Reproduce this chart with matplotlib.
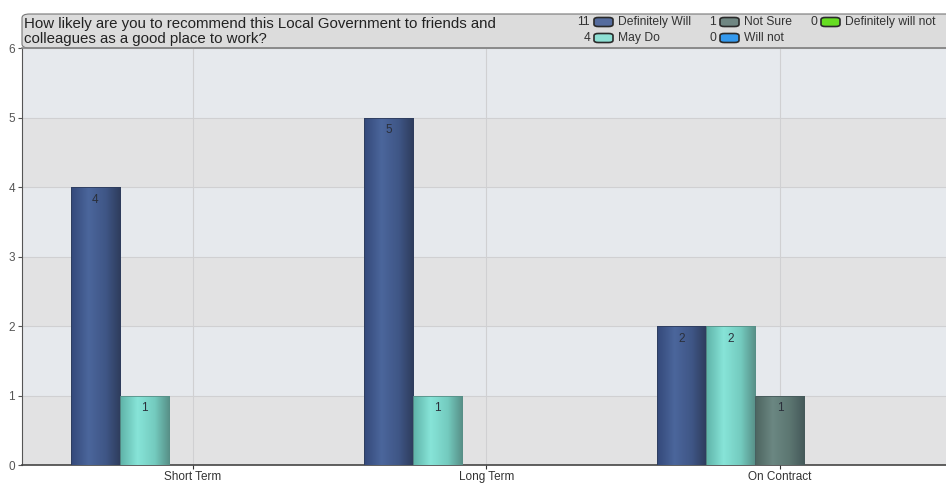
import numpy as np
import matplotlib
matplotlib.use("Agg")
import matplotlib.pyplot as plt
from matplotlib.colors import LinearSegmentedColormap
from matplotlib.patches import FancyBboxPatch, Rectangle

plt.rcParams['font.family'] = ['Liberation Sans', 'DejaVu Sans']

# Données
categories = ["Short Term", "Long Term", "On Contract"]
series = ["Definitely Will", "May Do", "Not Sure", "Will not", "Definitely will not"]
definitely_will = [4, 5, 2]
may_do = [1, 1, 2]
not_sure = [0, 0, 1]
will_not = [0, 0, 0]
definitely_will_not = [0, 0, 0]
valeurs = [definitely_will, may_do, not_sure, will_not, definitely_will_not]
titre = ("How likely are you to recommend this Local Government to friends and\n"
         "colleagues as a good place to work?")

# Couleurs (bord sombre, reflet clair, bord sombre)
degrades = [
    ["#34497a", "#4b669c", "#3f5686", "#2e3c5c"],
    ["#5fb3a8", "#87e4d8", "#74cbbf", "#578f87"],
    ["#4d6560", "#6b8782", "#5c7671", "#45595a"],
    ["#1f78c8", "#48a8f5", "#3390e0", "#1a66aa"],
    ["#4cb010", "#78e030", "#60c820", "#3f9010"],
]
pastilles = ["#556c9e", "#8ee0d4", "#6f8682", "#3399ee", "#66dd22"]

fig = plt.figure(figsize=(9.46, 4.83), dpi=100)
W, H = 946, 483
ax = fig.add_axes([22 / W, 1 - 465 / H, 1 - 22 / W, (465 - 48) / H])

x = np.arange(len(categories))
largeur = 0.167

# Bandes de fond alternées
for k in range(6):
    c = "#e2e2e3" if k % 2 == 0 else "#e6e9ed"
    ax.axhspan(k, k + 1, color=c, zorder=0, lw=0)
ax.set_facecolor("#e5e6e8")

ax.grid(True, color="#d0d0d2", lw=0.8, zorder=1)
ax.set_axisbelow(True)

for i, (nom, vals) in enumerate(zip(series, valeurs)):
    pos = x + (i - 2) * largeur
    barres = ax.bar(pos, vals, largeur, color=degrades[i][1],
                    edgecolor=degrades[i][3], lw=0.6, zorder=2)
    cmap = LinearSegmentedColormap.from_list("g%d" % i, list(zip([0, 0.35, 0.7, 1], degrades[i])))
    grad = np.linspace(0, 1, 64).reshape(1, -1)
    for b, v in zip(barres, vals):
        if v <= 0:
            continue
        x0 = b.get_x()
        im = ax.imshow(grad, cmap=cmap, extent=(x0, x0 + largeur, 0, v),
                       aspect="auto", zorder=3, interpolation="bicubic")
        im.set_clip_path(b)
        ax.add_patch(Rectangle((x0, 0), largeur, v, fill=False,
                               edgecolor=degrades[i][3], lw=0.6, zorder=4))
        ax.text(x0 + largeur / 2, v - 0.1, str(v), ha="center", va="top",
                fontsize=8.5, color="#2a2f3a", zorder=5)

ax.set_xticks(x)
ax.set_xticklabels(categories, fontsize=8.5, color="#333333")
ax.set_yticks(range(7))
ax.tick_params(axis="y", labelsize=8.5, labelcolor="#555555", length=3, color="#555555", pad=2)
ax.tick_params(axis="x", length=3, color="#333333", pad=1.5)
for s in ["top", "right"]:
    ax.spines[s].set_visible(False)
ax.spines["left"].set_color("#555555")
ax.spines["bottom"].set_color("#444444")
ax.spines["bottom"].set_linewidth(1.2)
ax.set_xlim(-0.583, 2.566)
ax.set_ylim(0, 6)

# En-tête
hy0, hy1 = 1 - 48 / H, 1 - 14 / H
entete = FancyBboxPatch((22 / W, hy0), 1 - 22 / W + 0.01, hy1 - hy0,
                        boxstyle="round,pad=0,rounding_size=0.008",
                        transform=fig.transFigure, facecolor="#dcdcdc",
                        edgecolor="#777777", lw=0.8, zorder=0)
fig.patches.append(entete)
fig.add_artist(plt.Line2D([22 / W, 1], [hy0, hy0], transform=fig.transFigure,
                          color="#888888", lw=1.2))
fig.text(24 / W, 1 - 31.5 / H, titre, fontsize=10.8, color="#222222",
         va="center", ha="left", linespacing=1.12)

# Légende
totaux = [sum(v) for v in valeurs]
emplacements = [(590, 22), (590, 38), (716, 22), (716, 38), (817, 22)]
for i, (nom, (px, py)) in enumerate(zip(series, emplacements)):
    fy = 1 - py / H
    fig.text(px / W, fy, str(totaux[i]), fontsize=8.7, ha="right", va="center", color="#333333")
    p = FancyBboxPatch(((px + 4) / W, fy - 4.5 / H), 19 / W, 9 / H,
                       boxstyle="round,pad=0,rounding_size=0.0045",
                       transform=fig.transFigure, facecolor=pastilles[i],
                       edgecolor="#2a2a2a", lw=1.2)
    fig.patches.append(p)
    fig.text((px + 28) / W, fy, nom, fontsize=8.7, ha="left", va="center", color="#333333")

fig.savefig("out.png", dpi=100)
